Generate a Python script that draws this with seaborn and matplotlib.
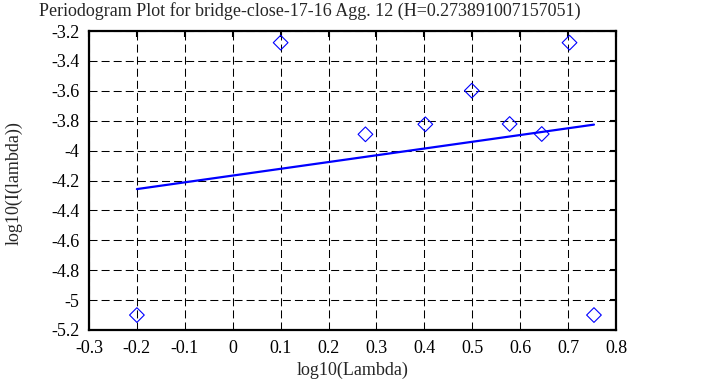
import numpy as np
import pandas as pd
import matplotlib
matplotlib.use("Agg")
import matplotlib.pyplot as plt
import seaborn as sns

# values
log_lambda = [-0.2, 0.1, 0.277, 0.402, 0.499, 0.578, 0.645, 0.703, 0.754]
log_i = [-5.10, -3.278, -3.891, -3.824, -3.599, -3.822, -3.889, -3.278, -5.10]
fit_slope = 0.452
fit_intercept = -4.167
x_ticks = [-0.3, -0.2, -0.1, 0, 0.1, 0.2, 0.3, 0.4, 0.5, 0.6, 0.7, 0.8]
y_ticks = [-5.2, -5.0, -4.8, -4.6, -4.4, -4.2, -4.0, -3.8, -3.6, -3.4, -3.2]

df = pd.DataFrame({"x": log_lambda, "y": log_i})
fit = pd.DataFrame({"x": [min(log_lambda), max(log_lambda)]})
fit["y"] = fit_intercept + fit_slope * fit["x"]

sns.set_theme(style="white")
plt.rcParams["font.family"] = ["Liberation Serif", "DejaVu Serif"]
plt.rcParams["axes.unicode_minus"] = False

fig = plt.figure(figsize=(7.05, 3.87), dpi=100)
ax = fig.add_axes([89 / 705, 1 - 330 / 387, 527 / 705, 299 / 387])

sns.lineplot(data=fit, x="x", y="y", ax=ax, color="#0000ff", lw=1.6, zorder=3)
sns.scatterplot(data=df, x="x", y="y", ax=ax, marker="D", s=56,
                facecolor="none", edgecolor="#0000ff", linewidth=0.8, zorder=4)

ax.set_xlim(-0.3, 0.8)
ax.set_ylim(-5.2, -3.2)
ax.set_xticks(x_ticks)
ax.set_yticks(y_ticks)
ax.set_xticklabels(["%g" % t for t in x_ticks])
ax.set_yticklabels(["%g" % t for t in y_ticks])
ax.grid(True, color="black", linestyle=(0, (7.7, 3.9)), linewidth=0.75)
ax.tick_params(direction="in", length=4, width=1.5, top=True, right=True,
               labelsize=13, colors="black", pad=7)
for s in ax.spines.values():
    s.set_linewidth(1.6)
    s.set_color("black")

ax.set_xlabel("log10(Lambda)", fontsize=13)
ax.set_ylabel("log10(I(lambda))", fontsize=13)
ax.xaxis.set_label_coords(0.5, (330 - 362) / 299)
ax.yaxis.set_label_coords((23 - 89) / 527, 0.49)
fig.text(310 / 705, 1 - 11 / 387, "Periodogram Plot for bridge-close-17-16 Agg. 12 (H=0.273891007157051)",
         ha="center", va="center", fontsize=13)

fig.savefig("out.png", dpi=100)
